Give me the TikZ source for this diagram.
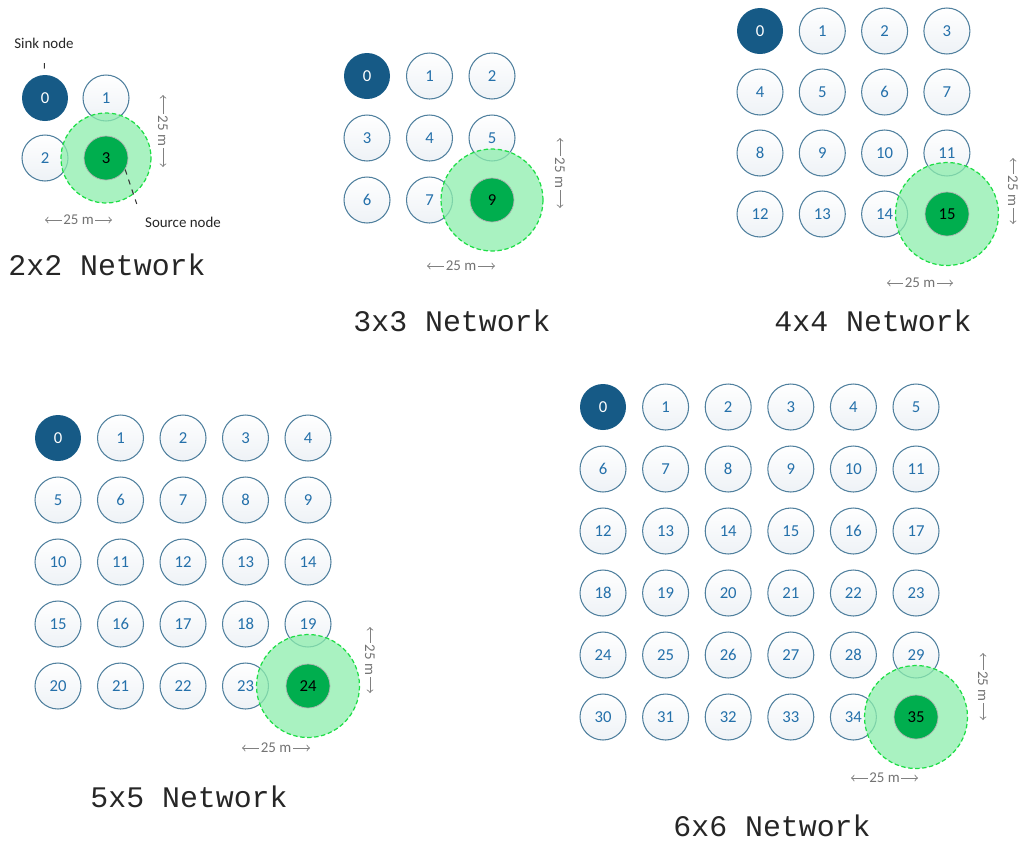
\documentclass[tikz,border=0pt]{standalone}
\usepackage{fontspec}
\setmainfont{Carlito}
\newfontfamily\netfont{Liberation Mono}
\definecolor{rimblue}{RGB}{80,128,158}
\definecolor{numblue}{RGB}{36,112,170}
\definecolor{sinkblue}{RGB}{22,90,134}
\definecolor{srcgreen}{RGB}{0,174,78}
\definecolor{zonefill}{RGB}{140,238,172}
\definecolor{zonerim}{RGB}{30,222,70}
\definecolor{paleblue}{RGB}{238,242,246}
\begin{document}
\begin{tikzpicture}[
    x=0.02cm, y=-0.02cm,
    >=to,
    every node/.style={font=\fontsize{9.5}{11}\selectfont},
    plain/.style={circle, draw=rimblue, line width=0.6pt, top color=white,
      bottom color=paleblue, text=numblue, minimum size=0.92cm, inner sep=0pt},
    sink/.style={circle, fill=sinkblue, text=white, minimum size=0.92cm, inner sep=0pt},
    source/.style={circle, fill=srcgreen, draw=gray!60, line width=0.4pt,
      text=black, minimum size=0.88cm, inner sep=0pt},
    zone/.style={fill=zonefill, fill opacity=0.75, draw=zonerim, line width=0.7pt,
      dash pattern=on 2.5pt off 1.5pt},
    dim/.style={<->, gray, line width=0.5pt},
    dimlabel/.style={fill=white, inner sep=1pt, text=gray!90!black,
      font=\fontsize{8.5}{10}\selectfont},
    leader/.style={dashed, line width=0.6pt, black!80},
    note/.style={font=\fontsize{8.5}{10}\selectfont, text=black!85},
    title/.style={font=\netfont\fontsize{17}{19}\selectfont, text=black!85}
  ]

    \useasboundingbox (0,0) rectangle (1024,843);

    % 2x2 network --------------------------------------------------
    \foreach \r in {0,1}
      \foreach \c in {0,1}{
        \pgfmathtruncatemacro\n{2*\r+\c}
        \ifnum\n=0 \node[sink] (b\n) at (45+61*\c,98+60*\r) {\n};
        \else\ifnum\n<3 \node[plain] (b\n) at (45+61*\c,98+60*\r) {\n};\fi\fi
      }
    \draw[zone] (106,158) circle (45);
    \node[source] (b3) at (106,158) {3};

    \node[note] (sinklab) at (44,43) {Sink node};
    \node[note] (srclab) at (183,222) {Source node};
    \draw[leader, shorten <=5pt, shorten >=1pt] (sinklab) -- (b0);
    \draw[leader, shorten >=4pt] (b3.-31) -- (srclab.north west);

    \draw[dim] (163,95) -- (163,167) node[midway, dimlabel, rotate=-90] {25 m};
    \draw[dim] (45,220) -- (112,220) node[midway, dimlabel] {25 m};
    \node[title] (t2) at (107,265) {2x2 Network};

    % 3x3 network --------------------------------------------------
    \foreach \r in {0,1,2}
      \foreach \c in {0,1,2}{
        \pgfmathtruncatemacro\n{3*\r+\c}
        \ifnum\n=0 \node[sink] (c\n) at (367+62.5*\c,76+62*\r) {\n};
        \else\ifnum\n<8 \node[plain] (c\n) at (367+62.5*\c,76+62*\r) {\n};\fi\fi
      }
    \draw[zone] (492,200) circle (51);
    \node[source] (c9) at (492,200) {9};

    \draw[dim] (560,138) -- (560,208) node[midway, dimlabel, rotate=-90] {25 m};
    \draw[dim] (427,266) -- (495,266) node[midway, dimlabel] {25 m};
    \node[title] (t3) at (452,321) {3x3 Network};

    % 4x4 network --------------------------------------------------
    \foreach \r in {0,...,3}
      \foreach \c in {0,...,3}{
        \pgfmathtruncatemacro\n{4*\r+\c}
        \ifnum\n=0 \node[sink] (d\n) at (760+62.3*\c,31+61*\r) {\n};
        \else\ifnum\n<15 \node[plain] (d\n) at (760+62.3*\c,31+61*\r) {\n};\fi\fi
      }
    \draw[zone] (947,214) circle (51.5);
    \node[source] (d15) at (947,214) {15};

    \draw[dim] (1013,158) -- (1013,224) node[midway, dimlabel, rotate=-90] {25 m};
    \draw[dim] (887,283) -- (953,283) node[midway, dimlabel] {25 m};
    \node[title] (t4) at (873,321) {4x4 Network};

    % 5x5 network --------------------------------------------------
    \foreach \r in {0,...,4}
      \foreach \c in {0,...,4}{
        \pgfmathtruncatemacro\n{5*\r+\c}
        \ifnum\n=0 \node[sink] (e\n) at (58+62.5*\c,438+62*\r) {\n};
        \else\ifnum\n<24 \node[plain] (e\n) at (58+62.5*\c,438+62*\r) {\n};\fi\fi
      }
    \draw[zone] (308,686) circle (51.5);
    \node[source] (e24) at (308,686) {24};

    \draw[dim] (370,627) -- (370,693) node[midway, dimlabel, rotate=-90] {25 m};
    \draw[dim] (242,748) -- (310,748) node[midway, dimlabel] {25 m};
    \node[title] (t5) at (189,797) {5x5 Network};

    % 6x6 network --------------------------------------------------
    \foreach \r in {0,...,5}
      \foreach \c in {0,...,5}{
        \pgfmathtruncatemacro\n{6*\r+\c}
        \ifnum\n=0 \node[sink] (f\n) at (603+62.6*\c,407+62*\r) {\n};
        \else\ifnum\n<35 \node[plain] (f\n) at (603+62.6*\c,407+62*\r) {\n};\fi\fi
      }
    \draw[zone] (916,717) circle (51.5);
    \node[source] (f35) at (916,717) {35};

    \draw[dim] (983,653) -- (983,720) node[midway, dimlabel, rotate=-90] {25 m};
    \draw[dim] (851,778) -- (918,778) node[midway, dimlabel] {25 m};
    \node[title] (t6) at (772,826) {6x6 Network};

  \end{tikzpicture}
\end{document}
